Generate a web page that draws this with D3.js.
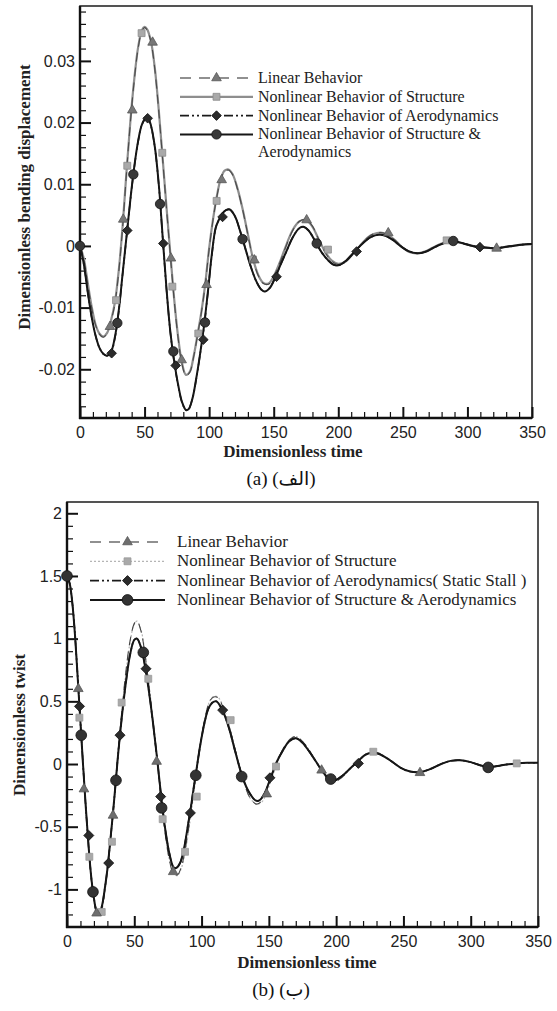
<!DOCTYPE html>
<html>
<head>
<meta charset="utf-8">
<script src="https://cdn.jsdelivr.net/npm/d3@7"></script>
<style>
  body { margin: 0; background: #fff; }
  svg { display: block; }
</style>
</head>
<body>
<div id="chart"></div>
<script>
// ---- data ----
const timeTicks = [0, 50, 100, 150, 200, 250, 300, 350];
const bendTicks = [-0.02, -0.01, 0, 0.01, 0.02, 0.03];
const bendTickLabels = ["-0.02", "-0.01", "0", "0.01", "0.02", "0.03"];
const twistTicks = [-1, -0.5, 0, 0.5, 1, 1.5, 2];
const twistTickLabels = ["-1", "-0.5", "0", "0.5", "1", "1.5", "2"];

const legendA = ["Linear Behavior", "Nonlinear Behavior of Structure", "Nonlinear Behavior of Aerodynamics", "Nonlinear Behavior of Structure &\nAerodynamics"];
const legendB = ["Linear Behavior", "Nonlinear Behavior of Structure", "Nonlinear Behavior of Aerodynamics( Static Stall )", "Nonlinear Behavior of Structure & Aerodynamics"];

// (a) dimensionless bending displacement vs time
const bendLinear = [[0,0],[3,-0.0022],[6,-0.0062],[9,-0.0100],[12,-0.0128],[15,-0.0143],[18,-0.0148],[21,-0.0142],[24,-0.0122],[27,-0.0094],[30,-0.0042],[33,0.0030],[36,0.0118],[39,0.0200],[42,0.0268],[45,0.0320],[48,0.0349],[50,0.0354],[52,0.0350],[55,0.0330],[58,0.0285],[61,0.0218],[64,0.0140],[67,0.0060],[70,-0.0016],[73,-0.0090],[76,-0.0150],[79,-0.0192],[82,-0.0210],[85,-0.0205],[88,-0.0180],[91,-0.0145],[94,-0.0108],[97,-0.0062],[100,-0.0005],[103,0.0042],[106,0.0080],[109,0.0108],[112,0.0121],[115,0.0123],[118,0.0116],[122,0.0092],[126,0.0058],[130,0.0018],[134,-0.0022],[138,-0.0048],[142,-0.0061],[146,-0.0062],[150,-0.0050],[155,-0.0026],[160,0.0002],[165,0.0026],[170,0.0040],[175,0.0043],[180,0.0032],[185,0.0010],[190,-0.0011],[195,-0.0025],[200,-0.0030],[205,-0.0027],[210,-0.0017],[215,-0.0004],[220,0.0008],[225,0.0017],[230,0.0021],[235,0.0021],[240,0.0016],[245,0.0007],[250,-0.0003],[255,-0.0010],[261,-0.0012],[267,-0.0009],[273,-0.0003],[280,0.0004],[285,0.0007],[290,0.0007],[297,0.0004],[304,0.0000],[310,-0.0002],[316,-0.0003],[322,-0.0004],[328,-0.0002],[335,0.0000],[342,0.0002],[350,0.0003]];
const bendStructure = [[0,0],[3,-0.0021],[6,-0.0060],[9,-0.0098],[12,-0.0127],[15,-0.0142],[18,-0.0147],[21,-0.0141],[24,-0.0121],[27,-0.0092],[30,-0.0040],[33,0.0032],[36,0.0120],[39,0.0202],[42,0.0270],[45,0.0322],[48,0.0350],[50,0.0355],[52,0.0351],[55,0.0331],[58,0.0287],[61,0.0220],[64,0.0142],[67,0.0062],[70,-0.0014],[73,-0.0088],[76,-0.0148],[79,-0.0190],[82,-0.0209],[85,-0.0204],[88,-0.0179],[91,-0.0144],[94,-0.0107],[97,-0.0061],[100,-0.0004],[103,0.0043],[106,0.0081],[109,0.0109],[112,0.0122],[115,0.0124],[118,0.0117],[122,0.0093],[126,0.0059],[130,0.0019],[134,-0.0021],[138,-0.0047],[142,-0.0060],[146,-0.0061],[150,-0.0049],[155,-0.0025],[160,0.0003],[165,0.0027],[170,0.0040],[175,0.0042],[180,0.0031],[185,0.0010],[190,-0.0010],[195,-0.0024],[200,-0.0029],[205,-0.0026],[210,-0.0016],[215,-0.0004],[220,0.0008],[225,0.0017],[230,0.0021],[235,0.0021],[240,0.0016],[245,0.0007],[250,-0.0003],[255,-0.0010],[261,-0.0012],[267,-0.0009],[273,-0.0003],[280,0.0004],[285,0.0007],[290,0.0007],[297,0.0004],[304,0.0000],[310,-0.0002],[316,-0.0003],[322,-0.0004],[328,-0.0002],[335,0.0000],[342,0.0002],[350,0.0003]];
const bendAero = [[0,0],[3,-0.0030],[6,-0.0075],[9,-0.0115],[12,-0.0145],[15,-0.0165],[18,-0.0175],[21,-0.0178],[24,-0.0173],[27,-0.0150],[30,-0.0106],[33,-0.0046],[36,0.0014],[39,0.0074],[42,0.0127],[45,0.0169],[48,0.0197],[51,0.0207],[53,0.0205],[55,0.0194],[58,0.0159],[61,0.0099],[64,0.0014],[67,-0.0071],[70,-0.0141],[73,-0.0189],[76,-0.0226],[79,-0.0254],[82,-0.0266],[84,-0.0265],[87,-0.0248],[90,-0.0216],[93,-0.0176],[96,-0.0132],[99,-0.0076],[102,-0.0016],[105,0.0028],[107,0.0040],[110,0.0052],[113,0.0058],[116,0.0059],[120,0.0048],[124,0.0024],[128,-0.0004],[132,-0.0032],[136,-0.0055],[140,-0.0070],[143,-0.0074],[147,-0.0068],[151,-0.0052],[155,-0.0032],[160,-0.0008],[165,0.0015],[170,0.0029],[173,0.0031],[177,0.0025],[182,0.0008],[187,-0.0010],[192,-0.0023],[197,-0.0031],[201,-0.0031],[206,-0.0024],[211,-0.0013],[216,-0.0002],[221,0.0008],[226,0.0015],[231,0.0018],[236,0.0017],[242,0.0010],[248,0.0000],[254,-0.0008],[261,-0.0012],[267,-0.0010],[273,-0.0004],[280,0.0003],[286,0.0007],[291,0.0007],[297,0.0004],[304,0.0000],[310,-0.0002],[316,-0.0003],[322,-0.0004],[328,-0.0002],[335,0.0000],[342,0.0002],[350,0.0003]];
const bendBoth = [[0,0],[3,-0.0030],[6,-0.0075],[9,-0.0115],[12,-0.0145],[15,-0.0165],[18,-0.0175],[21,-0.0178],[24,-0.0172],[27,-0.0148],[30,-0.0105],[33,-0.0045],[36,0.0015],[39,0.0075],[42,0.0128],[45,0.0170],[48,0.0197],[51,0.0207],[53,0.0206],[55,0.0195],[58,0.0160],[61,0.0100],[64,0.0015],[67,-0.0070],[70,-0.0140],[73,-0.0188],[76,-0.0225],[79,-0.0253],[82,-0.0266],[84,-0.0265],[87,-0.0248],[90,-0.0215],[93,-0.0175],[96,-0.0130],[99,-0.0075],[102,-0.0015],[105,0.0029],[107,0.0040],[110,0.0052],[113,0.0058],[116,0.0059],[120,0.0048],[124,0.0024],[128,-0.0004],[132,-0.0032],[136,-0.0055],[140,-0.0070],[143,-0.0074],[147,-0.0068],[151,-0.0052],[155,-0.0032],[160,-0.0008],[165,0.0015],[170,0.0029],[173,0.0031],[177,0.0025],[182,0.0008],[187,-0.0010],[192,-0.0023],[197,-0.0031],[201,-0.0031],[206,-0.0024],[211,-0.0013],[216,-0.0002],[221,0.0008],[226,0.0015],[231,0.0018],[236,0.0017],[242,0.0010],[248,0.0000],[254,-0.0008],[261,-0.0012],[267,-0.0010],[273,-0.0004],[280,0.0003],[286,0.0007],[291,0.0007],[297,0.0004],[304,0.0000],[310,-0.0002],[316,-0.0003],[322,-0.0004],[328,-0.0002],[335,0.0000],[342,0.0002],[350,0.0003]];

const bendLinearMarks = [[23.2,-0.0131],[33.5,0.0043],[40.5,0.022],[56.2,0.033],[70.4,-0.002],[78.7,-0.0185],[98,-0.0063],[109.7,0.0107],[135,-0.0023],[175.5,0.0042],[238.7,0.0021],[322.6,-0.0004]];
const bendStructureMarks = [[27.9,-0.0088],[36.6,0.013],[47.7,0.0345],[63.7,0.0151],[71.5,-0.0066],[91.6,-0.0142],[105.8,0.0073],[134,-0.0022],[192,-0.0006],[283.9,0.0009]];
const bendAeroMarks = [[24.5,-0.0174],[36.6,0.0025],[52.4,0.0207],[64.5,0.0004],[74.1,-0.0194],[95.5,-0.0152],[110.4,0.0047],[152.2,-0.005],[214.2,-0.0009],[309.7,-0.0002]];
const bendBothMarks = [[0,0],[28.9,-0.0125],[41.3,0.0116],[62,0.0068],[72.3,-0.0171],[96.8,-0.0124],[125.9,0.0011],[183.3,0.0004],[289,0.0008]];

// (b) dimensionless twist vs time
const twistLinear = [[0,1.5],[2,1.44],[4,1.29],[6,1.03],[8,0.69],[10,0.34],[12,-0.01],[14,-0.35],[16,-0.66],[18,-0.92],[20,-1.09],[22,-1.19],[24,-1.21],[26,-1.15],[28,-1.02],[30,-0.85],[32,-0.64],[34,-0.41],[36,-0.16],[38,0.1],[41,0.45],[44,0.76],[47,0.99],[50,1.12],[52,1.14],[55,1.06],[58,0.87],[61,0.61],[64,0.32],[67,0.02],[70,-0.29],[73,-0.56],[76,-0.76],[79,-0.87],[82,-0.885],[85,-0.82],[88,-0.67],[91,-0.47],[94,-0.23],[97,0.01],[100,0.22],[103,0.39],[106,0.5],[109,0.535],[112,0.53],[116,0.45],[121,0.28],[126,0.07],[131,-0.13],[136,-0.27],[141,-0.32],[145,-0.29],[149,-0.2],[153,-0.08],[157,0.04],[161,0.13],[166,0.2],[170,0.22],[175,0.18],[180,0.11],[185,0.02],[190,-0.07],[195,-0.13],[199,-0.14],[205,-0.1],[210,-0.04],[216,0.02],[222,0.08],[227,0.095],[232,0.085],[240,0.03],[248,-0.03],[255,-0.06],[262,-0.068],[270,-0.04],[278,0.0],[285,0.026],[292,0.031],[300,0.015],[307,-0.01],[313,-0.026],[320,-0.016],[327,-0.003],[334,0.005],[342,0.01],[350,0.01]];
const twistStructure = [[0,1.5],[2,1.44],[4,1.29],[6,1.04],[8,0.71],[10,0.36],[12,0.01],[14,-0.33],[16,-0.65],[18,-0.91],[20,-1.09],[22,-1.19],[24,-1.21],[26,-1.16],[28,-1.03],[30,-0.86],[32,-0.66],[34,-0.43],[36,-0.18],[38,0.08],[41,0.44],[44,0.75],[47,0.98],[50,1.12],[52,1.14],[55,1.07],[58,0.88],[61,0.63],[64,0.34],[67,0.04],[70,-0.27],[73,-0.55],[76,-0.76],[79,-0.87],[82,-0.89],[85,-0.83],[88,-0.69],[91,-0.49],[94,-0.25],[97,-0.01],[100,0.21],[103,0.38],[106,0.5],[109,0.54],[112,0.535],[116,0.46],[121,0.29],[126,0.08],[131,-0.12],[136,-0.27],[141,-0.32],[145,-0.3],[149,-0.21],[153,-0.09],[157,0.03],[161,0.12],[166,0.2],[170,0.22],[175,0.18],[180,0.11],[185,0.02],[190,-0.07],[195,-0.13],[199,-0.14],[205,-0.1],[210,-0.04],[216,0.02],[222,0.08],[227,0.095],[232,0.085],[240,0.03],[248,-0.03],[255,-0.06],[262,-0.068],[270,-0.04],[278,0.0],[285,0.026],[292,0.031],[300,0.015],[307,-0.01],[313,-0.026],[320,-0.016],[327,-0.003],[334,0.005],[342,0.01],[350,0.01]];
const twistAero = [[0,1.5],[2,1.44],[4,1.28],[6,1.02],[8,0.68],[10,0.33],[12,-0.02],[14,-0.35],[16,-0.65],[18,-0.9],[20,-1.07],[22,-1.17],[24,-1.19],[26,-1.13],[28,-1.0],[30,-0.84],[32,-0.63],[34,-0.41],[36,-0.17],[38,0.08],[41,0.4],[44,0.67],[47,0.88],[50,0.99],[52,1.0],[55,0.93],[58,0.78],[61,0.57],[64,0.32],[67,0.04],[70,-0.26],[73,-0.52],[76,-0.71],[79,-0.82],[81,-0.83],[84,-0.79],[87,-0.67],[90,-0.48],[92,-0.35],[94,-0.2],[96,-0.06],[99,0.15],[102,0.32],[105,0.44],[108,0.49],[111,0.5],[115,0.44],[120,0.3],[125,0.1],[130,-0.09],[135,-0.22],[140,-0.29],[143,-0.29],[147,-0.23],[151,-0.12],[156,0.02],[160,0.1],[165,0.18],[170,0.205],[175,0.17],[180,0.1],[185,0.02],[190,-0.06],[195,-0.12],[199,-0.13],[205,-0.09],[210,-0.04],[216,0.02],[222,0.075],[227,0.09],[232,0.08],[240,0.03],[248,-0.03],[255,-0.06],[262,-0.065],[270,-0.04],[278,0.0],[285,0.025],[292,0.03],[300,0.015],[307,-0.01],[313,-0.025],[320,-0.015],[327,-0.003],[334,0.005],[342,0.01],[350,0.01]];
const twistBoth = [[0,1.5],[2,1.44],[4,1.28],[6,1.02],[8,0.68],[10,0.33],[12,-0.02],[14,-0.35],[16,-0.65],[18,-0.9],[20,-1.07],[22,-1.17],[24,-1.19],[26,-1.13],[28,-1.0],[30,-0.84],[32,-0.63],[34,-0.41],[36,-0.17],[38,0.08],[41,0.4],[44,0.67],[47,0.88],[50,0.99],[52,1.0],[55,0.93],[58,0.78],[61,0.57],[64,0.32],[67,0.04],[70,-0.26],[73,-0.52],[76,-0.71],[79,-0.82],[81,-0.83],[84,-0.79],[87,-0.67],[90,-0.48],[92,-0.35],[94,-0.2],[96,-0.06],[99,0.15],[102,0.32],[105,0.44],[108,0.49],[111,0.5],[115,0.44],[120,0.3],[125,0.1],[130,-0.09],[135,-0.22],[140,-0.29],[143,-0.29],[147,-0.23],[151,-0.12],[156,0.02],[160,0.1],[165,0.18],[170,0.205],[175,0.17],[180,0.1],[185,0.02],[190,-0.06],[195,-0.12],[199,-0.13],[205,-0.09],[210,-0.04],[216,0.02],[222,0.075],[227,0.09],[232,0.08],[240,0.03],[248,-0.03],[255,-0.06],[262,-0.065],[270,-0.04],[278,0.0],[285,0.025],[292,0.03],[300,0.015],[307,-0.01],[313,-0.025],[320,-0.015],[327,-0.003],[334,0.005],[342,0.01],[350,0.01]];

const twistLinearMarks = [[8.4,0.6],[12.6,-0.2],[22,-1.19],[34.2,-0.41],[66.6,0.02],[78.9,-0.86],[148.4,-0.24],[189.2,-0.05],[262.3,-0.07]];
const twistStructureMarks = [[9.2,0.37],[16.6,-0.74],[25.8,-1.18],[33.4,-0.62],[40.6,0.49],[60.4,0.68],[71.1,-0.44],[87.7,-0.7],[96.4,-0.26],[121.6,0.35],[155.3,-0.02],[227.6,0.098],[334.2,0.005]];
const twistAeroMarks = [[9.3,0.46],[16.2,-0.57],[31,-0.79],[39.4,0.23],[58.7,0.76],[69.6,-0.26],[91.7,-0.39],[115.7,0.43],[150.8,-0.11],[216.5,0.005]];
const twistBothMarks = [[0,1.5],[10.6,0.23],[19.3,-1.02],[36.4,-0.13],[56.7,0.89],[70.3,-0.35],[95.7,-0.09],[129.8,-0.1],[196,-0.12],[313,-0.027]];

// ---- drawing ----
const W = 557, H = 1011;
const serif = "'Liberation Serif', 'Times New Roman', 'DejaVu Serif', serif";
const sans = "'Liberation Sans', Arial, sans-serif";

const svg = d3.select("#chart").append("svg")
  .attr("width", W)
  .attr("height", H);

svg.append("rect").attr("width", W).attr("height", H).attr("fill", "#fff");

function markerPath(kind, size) {
  if (kind === "triangle") return d3.symbol(d3.symbolTriangle, size)();
  if (kind === "square" || kind === "diamond") return d3.symbol(d3.symbolSquare, size)();
  return d3.symbol(d3.symbolCircle, size)();
}

function panel(o) {
  let x = d3.scaleLinear().domain([0, 350]).range([o.left, o.right]);
  let y = d3.scaleLinear().domain(o.yDomain).range([o.bottom, o.top]);
  let g = svg.append("g");

  // frame
  g.append("rect")
    .attr("x", o.left).attr("y", o.top)
    .attr("width", o.right - o.left).attr("height", o.bottom - o.top)
    .attr("fill", "none").attr("stroke", "#2a2a2a").attr("stroke-width", 1.6);

  // minor ticks (inward)
  let xMinor = d3.range(0, 351, 10).filter(v => v % 50 !== 0);
  g.append("g").attr("transform", "translate(0," + o.bottom + ")")
    .call(d3.axisBottom(x).tickValues(xMinor).tickSize(-6).tickFormat(""))
    .call(a => a.select(".domain").remove())
    .selectAll("line").attr("stroke", "#111").attr("stroke-width", 1.2);

  let yMinor = d3.range(o.yMinorFrom, o.yMinorTo + 1e-9, o.yMinorStep)
    .filter(v => !o.yTicks.some(t => Math.abs(t - v) < 1e-9));
  g.append("g").attr("transform", "translate(" + o.left + ",0)")
    .call(d3.axisLeft(y).tickValues(yMinor).tickSize(-6).tickFormat(""))
    .call(a => a.select(".domain").remove())
    .selectAll("line").attr("stroke", "#111").attr("stroke-width", 1.2);

  // major ticks
  let xa = g.append("g").attr("transform", "translate(0," + o.bottom + ")")
    .call(d3.axisBottom(x).tickValues(timeTicks).tickSize(-11).tickPadding(6).tickFormat(d3.format("d")))
    .call(a => a.select(".domain").remove());
  xa.selectAll("line").attr("stroke", "#111").attr("stroke-width", 2);
  xa.selectAll("text").attr("font-family", sans).attr("font-size", 16).attr("fill", "#222").attr("dy", "0.9em");

  let ya = g.append("g").attr("transform", "translate(" + o.left + ",0)")
    .call(d3.axisLeft(y).tickValues(o.yTicks).tickSize(-11).tickPadding(5)
      .tickFormat((d, i) => o.yLabels[i]))
    .call(a => a.select(".domain").remove());
  ya.selectAll("line").attr("stroke", "#111").attr("stroke-width", 2);
  ya.selectAll("text").attr("font-family", sans).attr("font-size", 16).attr("fill", "#222");

  // heavier left and bottom axis lines
  g.append("line").attr("x1", o.left).attr("x2", o.left).attr("y1", o.top).attr("y2", o.bottom + 1)
    .attr("stroke", "#111").attr("stroke-width", 2.4);
  g.append("line").attr("x1", o.left - 1).attr("x2", o.right).attr("y1", o.bottom).attr("y2", o.bottom)
    .attr("stroke", "#111").attr("stroke-width", 2.6);

  // curves (drawn in z order, gray ones underneath)
  let line = d3.line()
    .x(d => x(d[0]))
    .y(d => y(d[1]))
    .curve(d3.curveCatmullRom.alpha(0.5));

  let drawOrder = o.series.slice().sort((a, b) => a.z - b.z);
  drawOrder.forEach(s => {
    g.append("path")
      .datum(s.data)
      .attr("d", line)
      .attr("fill", "none")
      .attr("stroke", s.stroke)
      .attr("stroke-width", s.width)
      .attr("stroke-dasharray", s.dash || null)
      .attr("stroke-linejoin", "round");
  });

  // markers
  drawOrder.forEach(s => {
    g.selectAll(null)
      .data(s.marks)
      .enter()
      .append("path")
        .attr("d", markerPath(s.marker, s.msize))
        .attr("transform", d => "translate(" + x(d[0]) + "," + y(d[1]) + ")" + (s.marker === "diamond" ? " rotate(45)" : ""))
        .attr("fill", s.mfill)
        .attr("stroke", s.mstroke)
        .attr("stroke-width", 0.8);
  });

  // legend, in the order Linear / Structure / Aero / Both
  let ly = o.legY;
  o.series.forEach((s, i) => {
    let lines = o.legend[i].split("\n");
    g.append("line")
      .attr("x1", o.legX0).attr("x2", o.legX1)
      .attr("y1", ly).attr("y2", ly)
      .attr("stroke", s.legStroke || s.stroke)
      .attr("stroke-width", s.width)
      .attr("stroke-dasharray", s.legDash || s.dash || null);
    g.append("path")
      .attr("d", markerPath(s.marker, s.msize))
      .attr("transform", "translate(" + ((o.legX0 + o.legX1) / 2) + "," + ly + ")" + (s.marker === "diamond" ? " rotate(45)" : ""))
      .attr("fill", s.mfill)
      .attr("stroke", s.mstroke)
      .attr("stroke-width", 0.8);
    // each wrapped line is its own text element
    lines.forEach((ln, j) => {
      g.append("text")
        .attr("x", o.legTx).attr("y", ly + 5 + j * 17.5)
        .attr("font-family", serif).attr("font-size", o.legFont).attr("fill", "#222")
        .text(ln);
    });
    ly += o.legDy;
  });

  // axis titles
  g.append("text")
    .attr("x", o.xTitleX).attr("y", o.xTitleY)
    .attr("text-anchor", "middle")
    .attr("font-family", serif).attr("font-weight", "bold").attr("font-size", 17)
    .attr("fill", "#222")
    .text("Dimensionless time");

  g.append("text")
    .attr("transform", "translate(" + o.yTitleX + "," + o.yTitleY + ") rotate(-90)")
    .attr("text-anchor", "middle")
    .attr("font-family", serif).attr("font-weight", "bold").attr("font-size", 17)
    .attr("fill", "#222")
    .text(o.yTitle);

  // caption
  g.append("text")
    .attr("x", 281).attr("y", o.capY)
    .attr("text-anchor", "middle")
    .attr("direction", "ltr")
    .attr("font-family", serif + ", 'DejaVu Sans'").attr("font-size", 19)
    .attr("fill", "#111")
    .text(o.caption);
}

panel({
  left: 80, right: 532, top: 6, bottom: 418,
  yDomain: [-0.0279, 0.0389],
  yTicks: bendTicks, yLabels: bendTickLabels,
  yMinorFrom: -0.026, yMinorTo: 0.038, yMinorStep: 0.002,
  series: [
    { data: bendLinear, marks: bendLinearMarks, z: 2, stroke: "#4a4a4a", width: 1.1, dash: "9,6", legStroke: "#222", legDash: "11,8", marker: "triangle", msize: 40, mfill: "#777", mstroke: "#555" },
    { data: bendStructure, marks: bendStructureMarks, z: 1, stroke: "#8e8e8e", width: 2.2, marker: "square", msize: 48, mfill: "#a9a9a9", mstroke: "#8a8a8a" },
    { data: bendAero, marks: bendAeroMarks, z: 3, stroke: "#1a1a1a", width: 1.6, dash: "9,3,2,3,2,3", marker: "diamond", msize: 46, mfill: "#2b2b2b", mstroke: "#111" },
    { data: bendBoth, marks: bendBothMarks, z: 4, stroke: "#161616", width: 2, marker: "circle", msize: 70, mfill: "#383838", mstroke: "#111" }
  ],
  legend: legendA,
  legX0: 180, legX1: 253, legTx: 258, legY: 78, legDy: 18.8, legFont: 16,
  xTitleX: 293, xTitleY: 457,
  yTitleX: 30, yTitleY: 197, yTitle: "Dimensionless bending displacement",
  caption: "(a) (الف)", capY: 485
});

panel({
  left: 67, right: 538, top: 502, bottom: 927,
  yDomain: [-1.3, 2.09],
  yTicks: twistTicks, yLabels: twistTickLabels,
  yMinorFrom: -1.2, yMinorTo: 2.0, yMinorStep: 0.1,
  series: [
    { data: twistLinear, marks: twistLinearMarks, z: 2, stroke: "#444", width: 1.1, dash: "9,6", legStroke: "#222", legDash: "11,8", marker: "triangle", msize: 40, mfill: "#6e6e6e", mstroke: "#555" },
    { data: twistStructure, marks: twistStructureMarks, z: 1, stroke: "#b5b5b5", width: 1.2, dash: "2,2", marker: "square", msize: 48, mfill: "#a9a9a9", mstroke: "#999" },
    { data: twistAero, marks: twistAeroMarks, z: 3, stroke: "#1a1a1a", width: 1.6, dash: "9,3,2,3,2,3", marker: "diamond", msize: 50, mfill: "#2b2b2b", mstroke: "#111" },
    { data: twistBoth, marks: twistBothMarks, z: 4, stroke: "#161616", width: 2, marker: "circle", msize: 90, mfill: "#333", mstroke: "#111" }
  ],
  legend: legendB,
  legX0: 90, legX1: 165, legTx: 177, legY: 542, legDy: 19.3, legFont: 17,
  xTitleX: 307, xTitleY: 968,
  yTitleX: 25, yTitleY: 725, yTitle: "Dimensionless twist",
  caption: "(b) (ب)", capY: 996
});
</script>
</body>
</html>
